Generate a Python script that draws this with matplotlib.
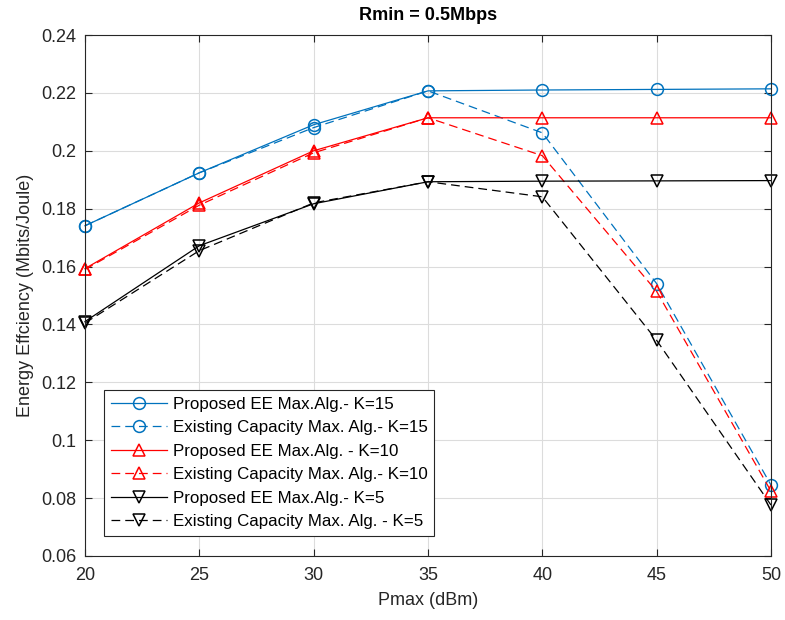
import matplotlib
matplotlib.use("Agg")
import matplotlib.pyplot as plt

plt.rcParams['font.family'] = ['Liberation Sans', 'DejaVu Sans']

pmax = [20, 25, 30, 35, 40, 45, 50]
prop_k15 = [0.1741, 0.1924, 0.2090, 0.2207, 0.2210, 0.2212, 0.2214]
exist_k15 = [0.1741, 0.1924, 0.2080, 0.2207, 0.2062, 0.1541, 0.0845]
prop_k10 = [0.1593, 0.1820, 0.2000, 0.2114, 0.2114, 0.2114, 0.2114]
exist_k10 = [0.1590, 0.1812, 0.1993, 0.2114, 0.1983, 0.1514, 0.0824]
prop_k5 = [0.1410, 0.1672, 0.1817, 0.1893, 0.1895, 0.1896, 0.1897]
exist_k5 = [0.1405, 0.1655, 0.1820, 0.1893, 0.1841, 0.1345, 0.0776]

labels = ["Proposed EE Max.Alg.- K=15",
          "Existing Capacity Max. Alg.- K=15",
          "Proposed EE Max.Alg. - K=10",
          "Existing Capacity Max. Alg.- K=10",
          "Proposed EE Max.Alg.- K=5",
          "Existing Capacity Max. Alg. - K=5"]

blue = '#0072BD'
fig = plt.figure(figsize=(7.85, 6.2), dpi=100)
ax = fig.add_axes([85 / 785, 64 / 620, 686 / 785, 521 / 620])

lw = 0.9
kw = dict(markerfacecolor='none', linewidth=lw, markeredgewidth=1.1, clip_on=False)
ax.plot(pmax, prop_k15, '-', marker='o', markersize=8.5, color=blue, label=labels[0], **kw)
ax.plot(pmax, exist_k15, '--', marker='o', markersize=8.5, color=blue, label=labels[1], dashes=(7, 4), **kw)
ax.plot(pmax, prop_k10, '-', marker='^', markersize=9, color='red', label=labels[2], **kw)
ax.plot(pmax, exist_k10, '--', marker='^', markersize=9, color='red', label=labels[3], dashes=(7, 4), **kw)
ax.plot(pmax, prop_k5, '-', marker='v', markersize=9, color='black', label=labels[4], **kw)
ax.plot(pmax, exist_k5, '--', marker='v', markersize=9, color='black', label=labels[5], dashes=(7, 4), **kw)

ax.set_xlim(20, 50)
ax.set_ylim(0.06, 0.24)
ax.set_xticks([20, 25, 30, 35, 40, 45, 50])
ax.set_yticks([0.06, 0.08, 0.1, 0.12, 0.14, 0.16, 0.18, 0.2, 0.22, 0.24])
ax.set_yticklabels(['0.06', '0.08', '0.1', '0.12', '0.14', '0.16', '0.18', '0.2', '0.22', '0.24'])
ax.grid(True, color='#dcdcdc', linewidth=0.8)
ax.set_axisbelow(True)
ax.tick_params(direction='in', top=True, right=True, labelsize=13, length=5,
               color='#262626', labelcolor='#262626')
ax.tick_params(axis='y', pad=6)
ax.tick_params(axis='x', pad=8)
for s in ax.spines.values():
    s.set_color('#262626')
    s.set_linewidth(0.8)

ax.set_xlabel('Pmax (dBm)', fontsize=13, color='#262626', labelpad=6)
ax.set_ylabel('Energy Effciency (Mbits/Joule)', fontsize=13, color='#262626', labelpad=5)
ax.set_title('Rmin = 0.5Mbps', fontsize=13, fontweight='bold', color='#000000', pad=11)

leg = ax.legend(loc='lower left', bbox_to_anchor=(19 / 686, 20 / 521), borderaxespad=0,
                fontsize=12.2, frameon=True, fancybox=False, edgecolor='#262626', framealpha=1,
                handlelength=3.3, labelspacing=0.5, borderpad=0.4, handletextpad=0.35)
leg.get_frame().set_linewidth(0.8)

fig.savefig('out.png', dpi=100, facecolor='white')
